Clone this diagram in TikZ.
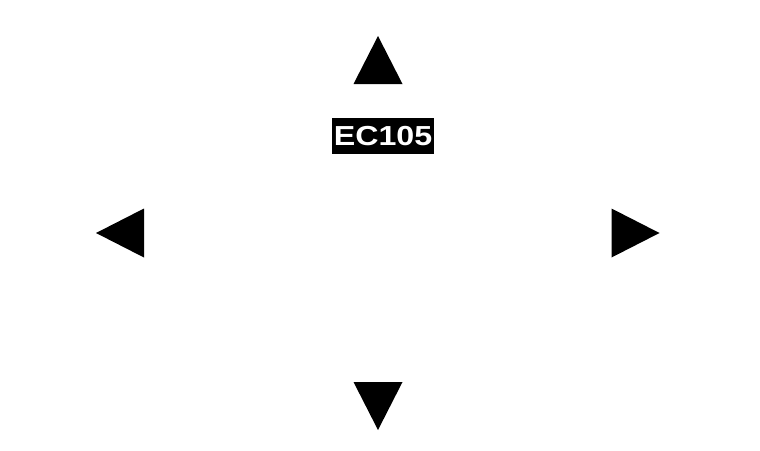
\documentclass[tikz,border=0pt]{standalone}
\usepackage{fontspec}
\newfontfamily\tagfont[FakeStretch=1.17]{Liberation Sans}

\begin{document}
\begin{tikzpicture}[x=1pt,y=-1pt,
    tagbox/.style={fill=black, text=white, font=\tagfont\bfseries\fontsize{27.5}{30}\selectfont,
                   minimum width=102pt, minimum height=36pt, inner sep=0pt}]

% Page frame (pixel units, y downwards)
\useasboundingbox (0,0) rectangle (760,450);

% Parameters
\def\hw{24.5}   % half width of a triangle
\def\hh{24}     % half height of a triangle

% Up
\fill[black] (378,60-\hh) -- (378+\hw,60+\hh) -- (378-\hw,60+\hh) -- cycle;
% Down
\fill[black] (378,406+\hh) -- (378+\hw,406-\hh) -- (378-\hw,406-\hh) -- cycle;
% Left
\fill[black] (120-\hh,233) -- (120+\hh,233-\hw) -- (120+\hh,233+\hw) -- cycle;
% Right
\fill[black] (635.5+\hh,233) -- (635.5-\hh,233-\hw) -- (635.5-\hh,233+\hw) -- cycle;

% Label
\node[tagbox] (tag) at (383,136) {EC105};

\end{tikzpicture}
\end{document}
